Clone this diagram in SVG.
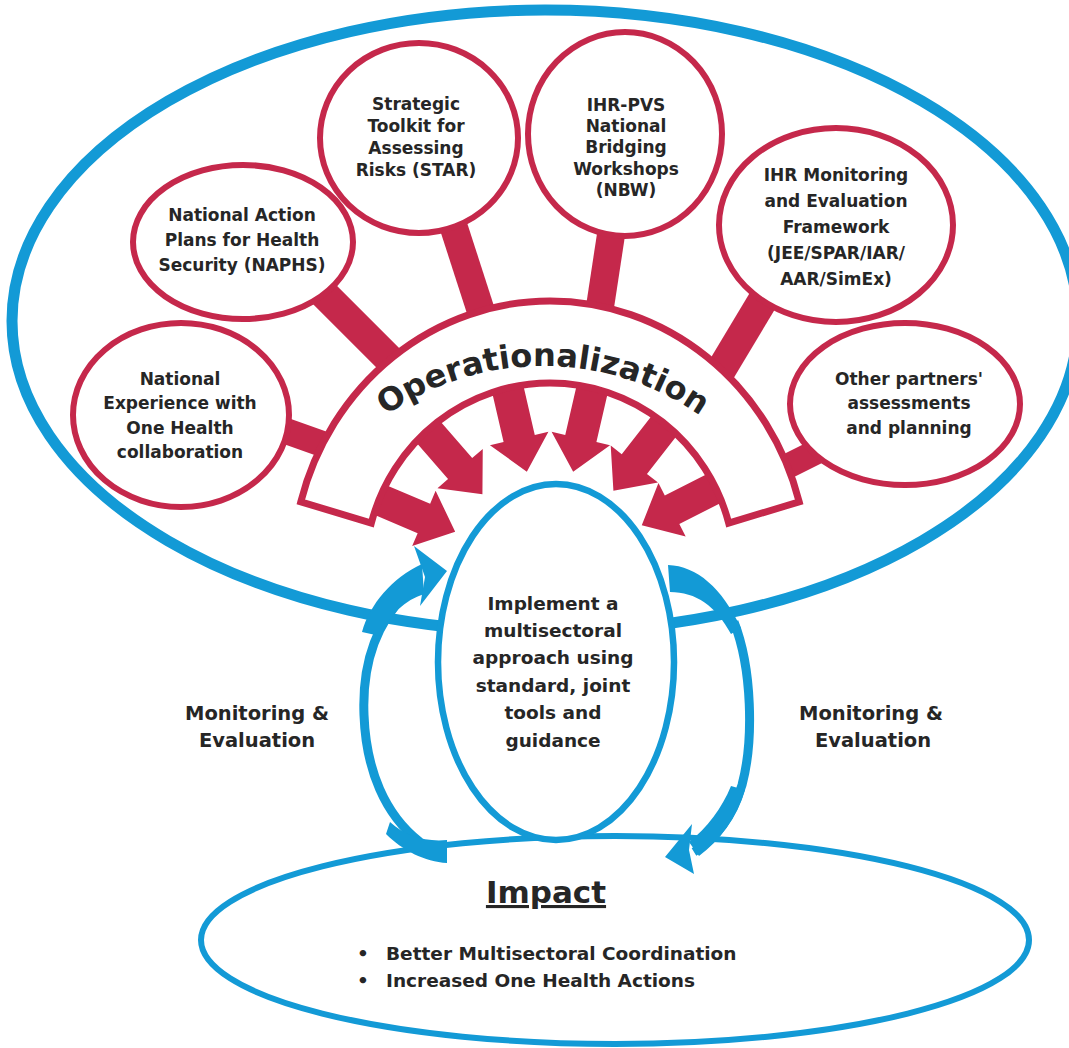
<svg xmlns="http://www.w3.org/2000/svg" width="1069" height="1048" viewBox="0 0 1069 1048">
<style>
.red{fill:#fff;stroke:#c5284b;stroke-width:6}
.t{font-family:"DejaVu Sans","Liberation Sans",sans-serif;font-weight:bold;fill:#262626;text-anchor:middle}
.s17{font-size:17px}
.s18{font-size:18.5px}
.bar{stroke:#c5284b;fill:none}
.arrow{fill:#c5284b}
.loop{fill:#139ad6}
.loopline{fill:none;stroke:#139ad6;stroke-width:9}
</style>
<defs>
<polygon id="arr" class="arrow" points="0,-103 30,-137 16,-137 16,-200 -16,-200 -16,-137 -30,-137"/>
</defs>
<rect width="1069" height="1048" fill="#fff"/>
<g id="frame"><ellipse cx="545" cy="321" rx="533" ry="311" fill="none" stroke="#139ad6" stroke-width="11"/></g>
<g id="impact">
<ellipse cx="615" cy="940" rx="414" ry="104" fill="#fff" stroke="#139ad6" stroke-width="6"/>
<text class="t" x="546" y="903" style="font-size:31px;text-decoration:underline">Impact</text>
<text class="t s18" x="357" y="960" style="text-anchor:start">•<tspan x="386">Better Multisectoral Coordination</tspan></text>
<text class="t s18" x="357" y="987" style="text-anchor:start">•<tspan x="386">Increased One Health Actions</tspan></text>
</g>
<g id="connectors">
<line class="bar" stroke-width="26" x1="255" y1="420" x2="345" y2="452"/>
<line class="bar" stroke-width="30" x1="300" y1="270" x2="400" y2="370"/>
<line class="bar" stroke-width="28" x1="445" y1="200" x2="487" y2="330"/>
<line class="bar" stroke-width="28" x1="614" y1="215" x2="598" y2="320"/>
<line class="bar" stroke-width="30" x1="775" y1="280" x2="712" y2="385"/>
<line class="bar" stroke-width="25" x1="830" y1="445" x2="770" y2="475"/>
<g transform="translate(550,572)">
<use href="#arr" transform="rotate(-67)"/>
<use href="#arr" transform="rotate(-41)"/>
<use href="#arr" transform="rotate(-13)"/>
<use href="#arr" transform="rotate(13)"/>
<use href="#arr" transform="rotate(38)"/>
<use href="#arr" transform="rotate(63)"/>
</g>
<path class="loopline" d="M 405,595 C 375,625 362,665 364,715 C 366,770 385,815 420,842"/>
<path class="loop" d="M 362,632 C 370,604 392,578 422,564 L 424,594 C 405,600 390,614 380,636 Z"/>
<polygon class="loop" points="414,546 447,571 420,606 425,577"/>
<path class="loop" d="M 390,822 C 405,836 425,842 447,840 L 447,863 C 425,862 402,850 386,834 Z"/>
<path class="loop" d="M 668,565 C 697,566 722,588 741,628 L 731,634 C 716,606 696,592 670,592 Z"/>
<path class="loopline" d="M 734,622 C 752,668 754,740 742,785 C 732,818 714,840 694,852"/>
<path class="loop" d="M 745,790 C 737,818 720,840 699,856 L 689,842 C 707,828 722,808 731,786 Z"/>
<polygon class="loop" points="692,824 665,857 694,874 689,850"/>
</g>
<g id="node-natexp">
<ellipse class="red" cx="181" cy="415" rx="108" ry="92"/>
<text class="t s17" x="180" y="385">National</text>
<text class="t s17" x="180" y="409">Experience with</text>
<text class="t s17" x="180" y="434">One Health</text>
<text class="t s17" x="180" y="458">collaboration</text>
</g>
<g id="node-naphs">
<ellipse class="red" cx="243" cy="242" rx="110" ry="77"/>
<text class="t s17" x="242" y="221">National Action</text>
<text class="t s17" x="242" y="246">Plans for Health</text>
<text class="t s17" x="242" y="271">Security (NAPHS)</text>
</g>
<g id="node-star">
<ellipse class="red" cx="419" cy="138" rx="99" ry="95"/>
<text class="t s17" x="416" y="110">Strategic</text>
<text class="t s17" x="416" y="132">Toolkit for</text>
<text class="t s17" x="416" y="154">Assessing</text>
<text class="t s17" x="416" y="176">Risks (STAR)</text>
</g>
<g id="node-pvs">
<ellipse class="red" cx="625" cy="134" rx="97" ry="102"/>
<text class="t s17" x="626" y="111">IHR-PVS</text>
<text class="t s17" x="626" y="132">National</text>
<text class="t s17" x="626" y="153">Bridging</text>
<text class="t s17" x="626" y="175">Workshops</text>
<text class="t s17" x="626" y="196">(NBW)</text>
</g>
<g id="node-me">
<ellipse class="red" cx="836" cy="225" rx="117" ry="97"/>
<text class="t s17" x="836" y="181">IHR Monitoring</text>
<text class="t s17" x="836" y="207">and Evaluation</text>
<text class="t s17" x="836" y="233">Framework</text>
<text class="t s17" x="836" y="259">(JEE/SPAR/IAR/</text>
<text class="t s17" x="836" y="285">AAR/SimEx)</text>
</g>
<g id="node-other">
<ellipse class="red" cx="905" cy="404" rx="115" ry="81"/>
<text class="t s17" x="909" y="385">Other partners'</text>
<text class="t s17" x="909" y="409">assessments</text>
<text class="t s17" x="909" y="434">and planning</text>
</g>
<g id="node-operationalization">
<path fill="#fff" stroke="#c5284b" stroke-width="7" stroke-linejoin="miter" d="M 300.8,501.8 A 258,271 0 0 1 799.2,501.8 L 728.7,523.1 A 185,189 0 0 0 371.3,523.1 Z"/>
<path id="tp" fill="none" d="M 305.7,503 A 274,274 0 0 1 780.3,503"/>
<text class="t" style="font-size:32px"><textPath href="#tp" startOffset="50%">Operationalization</textPath></text>
</g>
<g id="node-implement">
<ellipse cx="556" cy="662" rx="118" ry="178" fill="#fff" stroke="#139ad6" stroke-width="6.5"/>
<text class="t s18" x="553" y="610">Implement a</text>
<text class="t s18" x="553" y="637">multisectoral</text>
<text class="t s18" x="553" y="664">approach using</text>
<text class="t s18" x="553" y="692">standard, joint</text>
<text class="t s18" x="553" y="719">tools and</text>
<text class="t s18" x="553" y="747">guidance</text>
</g>
<g id="label-me-left">
<text class="t" style="font-size:19.5px" x="257" y="720">Monitoring &amp;</text>
<text class="t" style="font-size:19.5px" x="257" y="747">Evaluation</text>
</g>
<g id="label-me-right">
<text class="t" style="font-size:19.5px" x="871" y="720">Monitoring &amp;</text>
<text class="t" style="font-size:19.5px" x="873" y="747">Evaluation</text>
</g>
</svg>
